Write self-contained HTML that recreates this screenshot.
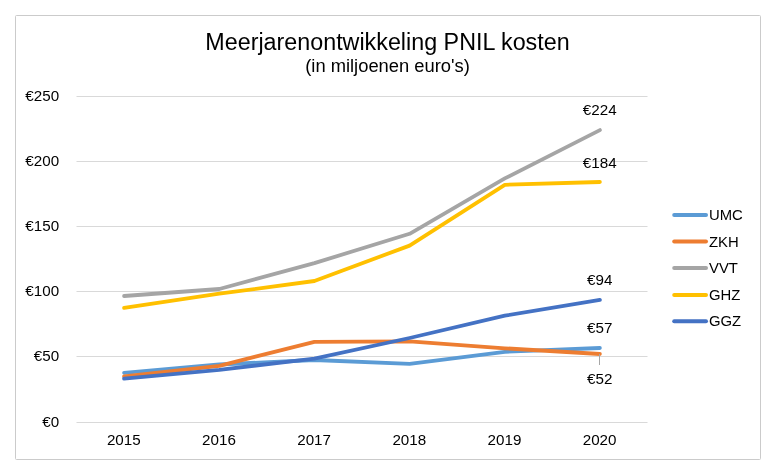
<!DOCTYPE html>
<html lang="nl"><head><meta charset="utf-8"><title>Meerjarenontwikkeling PNIL kosten</title>
<style>
html,body{margin:0;padding:0;background:#fff;}
body{width:778px;height:475px;overflow:hidden;font-family:"Liberation Sans",Arial,sans-serif;}
svg{display:block;}
text{font-family:"Liberation Sans",Arial,sans-serif;fill:#000;}
.ax{font-size:15.2px;}
</style></head><body>
<svg xmlns="http://www.w3.org/2000/svg" width="778" height="475" viewBox="0 0 778 475">
<rect x="0" y="0" width="778" height="475" fill="#fff"/>
<rect x="15.5" y="15.5" width="745" height="444" rx="1" ry="1" fill="#fff" stroke="#cbcbcb" stroke-width="1"/>
<rect x="76.5" y="96" width="571" height="1" fill="#d9d9d9"/>
<rect x="76.5" y="161" width="571" height="1" fill="#d9d9d9"/>
<rect x="76.5" y="226" width="571" height="1" fill="#d9d9d9"/>
<rect x="76.5" y="291" width="571" height="1" fill="#d9d9d9"/>
<rect x="76.5" y="356" width="571" height="1" fill="#d9d9d9"/>
<rect x="76.5" y="422" width="571" height="1" fill="#d9d9d9"/>
<text x="387.5" y="50" text-anchor="middle" font-size="23.3">Meerjarenontwikkeling PNIL kosten</text>
<text x="387.5" y="72" text-anchor="middle" font-size="18.35">(in miljoenen euro's)</text>
<text class="ax" transform="translate(59.1,101.2) scale(1,1.02)" text-anchor="end">€250</text>
<text class="ax" transform="translate(59.1,166.2) scale(1,1.02)" text-anchor="end">€200</text>
<text class="ax" transform="translate(59.1,231.2) scale(1,1.02)" text-anchor="end">€150</text>
<text class="ax" transform="translate(59.1,296.2) scale(1,1.02)" text-anchor="end">€100</text>
<text class="ax" transform="translate(59.1,361.2) scale(1,1.02)" text-anchor="end">€50</text>
<text class="ax" transform="translate(59.1,427.2) scale(1,1.02)" text-anchor="end">€0</text>
<text class="ax" transform="translate(123.8,445.2) scale(1,1.02)" text-anchor="middle">2015</text>
<text class="ax" transform="translate(219.0,445.2) scale(1,1.02)" text-anchor="middle">2016</text>
<text class="ax" transform="translate(314.1,445.2) scale(1,1.02)" text-anchor="middle">2017</text>
<text class="ax" transform="translate(409.3,445.2) scale(1,1.02)" text-anchor="middle">2018</text>
<text class="ax" transform="translate(504.5,445.2) scale(1,1.02)" text-anchor="middle">2019</text>
<text class="ax" transform="translate(599.6,445.2) scale(1,1.02)" text-anchor="middle">2020</text>
<polyline points="124.1,372.9 219.3,364.5 314.4,360.0 409.6,363.9 504.8,351.8 599.9,348.0" fill="none" stroke="#5B9BD5" stroke-width="3.8" stroke-linecap="round" stroke-linejoin="round"/>
<polyline points="124.1,376.5 219.3,365.8 314.4,341.8 409.6,341.3 504.8,348.3 599.9,354.0" fill="none" stroke="#ED7D31" stroke-width="3.8" stroke-linecap="round" stroke-linejoin="round"/>
<polyline points="124.1,296.0 219.3,289.0 314.4,263.1 409.6,233.8 504.8,178.4 599.9,130.1" fill="none" stroke="#A5A5A5" stroke-width="3.8" stroke-linecap="round" stroke-linejoin="round"/>
<polyline points="124.1,307.9 219.3,293.7 314.4,281.0 409.6,245.6 504.8,184.8 599.9,182.0" fill="none" stroke="#FFC000" stroke-width="3.8" stroke-linecap="round" stroke-linejoin="round"/>
<polyline points="124.1,378.7 219.3,369.8 314.4,358.7 409.6,338.0 504.8,315.7 599.9,299.9" fill="none" stroke="#4472C4" stroke-width="3.8" stroke-linecap="round" stroke-linejoin="round"/>
<rect x="599" y="354" width="1" height="11" fill="#a6a6a6"/>
<text class="ax" transform="translate(599.7,114.8) scale(1,1.02)" text-anchor="middle">€224</text>
<text class="ax" transform="translate(599.7,167.7) scale(1,1.02)" text-anchor="middle">€184</text>
<text class="ax" transform="translate(599.7,284.8) scale(1,1.02)" text-anchor="middle">€94</text>
<text class="ax" transform="translate(599.7,333.0) scale(1,1.02)" text-anchor="middle">€57</text>
<text class="ax" transform="translate(599.7,383.5) scale(1,1.02)" text-anchor="middle">€52</text>
<line x1="674.2" y1="215.0" x2="706" y2="215.0" stroke="#5B9BD5" stroke-width="4" stroke-linecap="round"/>
<text class="ax" style="font-size:14.87px" transform="translate(709,220.2) scale(1,1.02)">UMC</text>
<line x1="674.2" y1="241.6" x2="706" y2="241.6" stroke="#ED7D31" stroke-width="4" stroke-linecap="round"/>
<text class="ax" style="font-size:14.87px" transform="translate(709,246.79999999999998) scale(1,1.02)">ZKH</text>
<line x1="674.2" y1="268.1" x2="706" y2="268.1" stroke="#A5A5A5" stroke-width="4" stroke-linecap="round"/>
<text class="ax" style="font-size:14.87px" transform="translate(709,273.3) scale(1,1.02)">VVT</text>
<line x1="674.2" y1="295.0" x2="706" y2="295.0" stroke="#FFC000" stroke-width="4" stroke-linecap="round"/>
<text class="ax" style="font-size:14.87px" transform="translate(709,300.2) scale(1,1.02)">GHZ</text>
<line x1="674.2" y1="321.2" x2="706" y2="321.2" stroke="#4472C4" stroke-width="4" stroke-linecap="round"/>
<text class="ax" style="font-size:14.87px" transform="translate(709,326.4) scale(1,1.02)">GGZ</text>
</svg></body></html>
